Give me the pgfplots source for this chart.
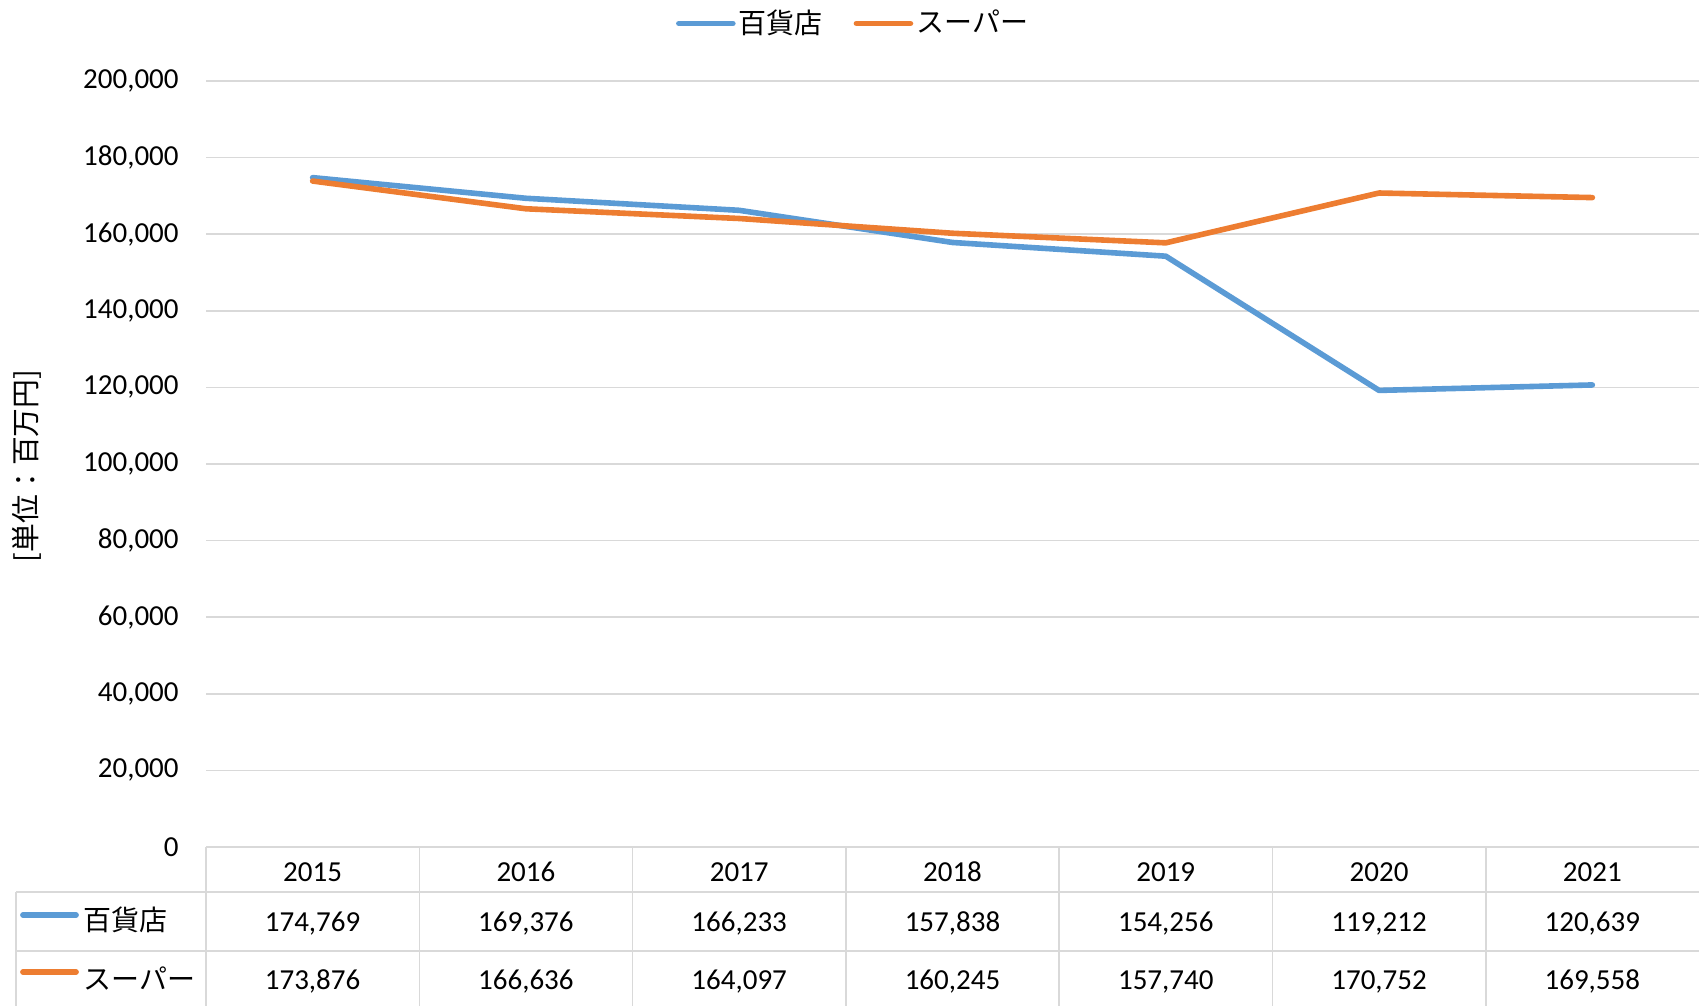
\documentclass[border=0pt]{standalone}
\usepackage{fontspec}
\setmainfont{Carlito}
\newfontfamily\jp{Noto Sans CJK JP}
\usepackage{pgfplots}
\pgfplotsset{compat=1.18}
\usepackage{pgfplotstable}
\definecolor{cblue}{HTML}{5B9BD5}
\definecolor{corange}{HTML}{ED7D31}
\definecolor{gridc}{HTML}{D9D9D9}

\pgfplotstableread{
x dept super
0 174769 173876
1 169376 166636
2 166233 164097
3 157838 160245
4 154256 157740
5 119212 170752
6 120639 169558
}\datatable

\begin{document}
\fontsize{14.5}{17}\selectfont
\begin{tikzpicture}
\path[use as bounding box] (0,0) rectangle (849.5pt,503pt);
\begin{axis}[
  at={(103pt,79.5pt)}, anchor=south west,
  scale only axis, width=746.5pt, height=383pt,
  xmin=-0.5, xmax=6.5, ymin=0, ymax=200000,
  xtick={0,1,2,3,4,5,6},
  xticklabels={2015,2016,2017,2018,2019,2020,2021},
  ytick={0,20000,40000,60000,80000,100000,120000,140000,160000,180000,200000},
  yticklabels={0,{20,000},{40,000},{60,000},{80,000},{100,000},{120,000},{140,000},{160,000},{180,000},{200,000}},
  scaled y ticks=false,
  axis line style={draw=none},
  major tick length=0pt,
  tick style={draw=none},
  ymajorgrids,
  grid style={gridc, line width=0.8pt},
  ticklabel style={font=\fontsize{14.5}{17}\selectfont},
  yticklabel style={anchor=east, inner sep=0pt, xshift=-13.5pt},
  xticklabel style={anchor=center, inner sep=0pt, yshift=-12.4pt},
  clip=false,
  legend columns=2,
  legend style={at={(0.4337,1.0751)}, anchor=center, draw=none, fill=none,
    inner sep=0pt, font=\jp\fontsize{14}{16}\selectfont,
    nodes={inner sep=1.5pt},
    /tikz/every even column/.append style={column sep=14pt}},
  legend image code/.code={\draw[#1, line cap=round] (0pt,0pt) -- (27pt,0pt);},
]
\addplot[cblue, line width=2.8pt, line join=round, line cap=round] table[x=x,y=dept]{\datatable};
\addlegendentry{百貨店}
\addplot[corange, line width=2.8pt, line join=round, line cap=round] table[x=x,y=super]{\datatable};
\addlegendentry{スーパー}
\end{axis}
\begin{scope}[x=0.5pt, y=-0.5pt, shift={(0pt,503pt)}]
  \draw[gridc, line width=0.8pt] (16,892) -- (1699,892) (16,951) -- (1699,951);
  \draw[gridc, line width=0.8pt] (16,892) -- (16,1006);
  \foreach \xx in {206,419.3,632.6,845.9,1059.1,1272.4,1485.7}
    \draw[gridc, line width=0.8pt] (\xx,847) -- (\xx,1006);
  \draw[cblue, line width=2.9pt, line cap=round] (23,915) -- (76,915);
  \draw[corange, line width=2.9pt, line cap=round] (23,972) -- (76,972);
  \node[anchor=west, inner sep=0pt, font=\jp\fontsize{14}{16}\selectfont] at (83,920) {百貨店};
  \node[anchor=west, inner sep=0pt, font=\jp\fontsize{14}{16}\selectfont] at (83,979) {スーパー};
  \foreach \v [count=\i from 0] in {{174,769},{169,376},{166,233},{157,838},{154,256},{119,212},{120,639}}
    \node[inner sep=0pt, anchor=base] at ({312.6+213.29*\i},931.7) {\v};
  \foreach \v [count=\i from 0] in {{173,876},{166,636},{164,097},{160,245},{157,740},{170,752},{169,558}}
    \node[inner sep=0pt, anchor=base] at ({312.6+213.29*\i},989.3) {\v};
  \node[rotate=90, inner sep=0pt, font=\jp\fontsize{14.4}{16}\selectfont] at (27,466) {[単位：百万円]};
\end{scope}
\end{tikzpicture}
\end{document}
